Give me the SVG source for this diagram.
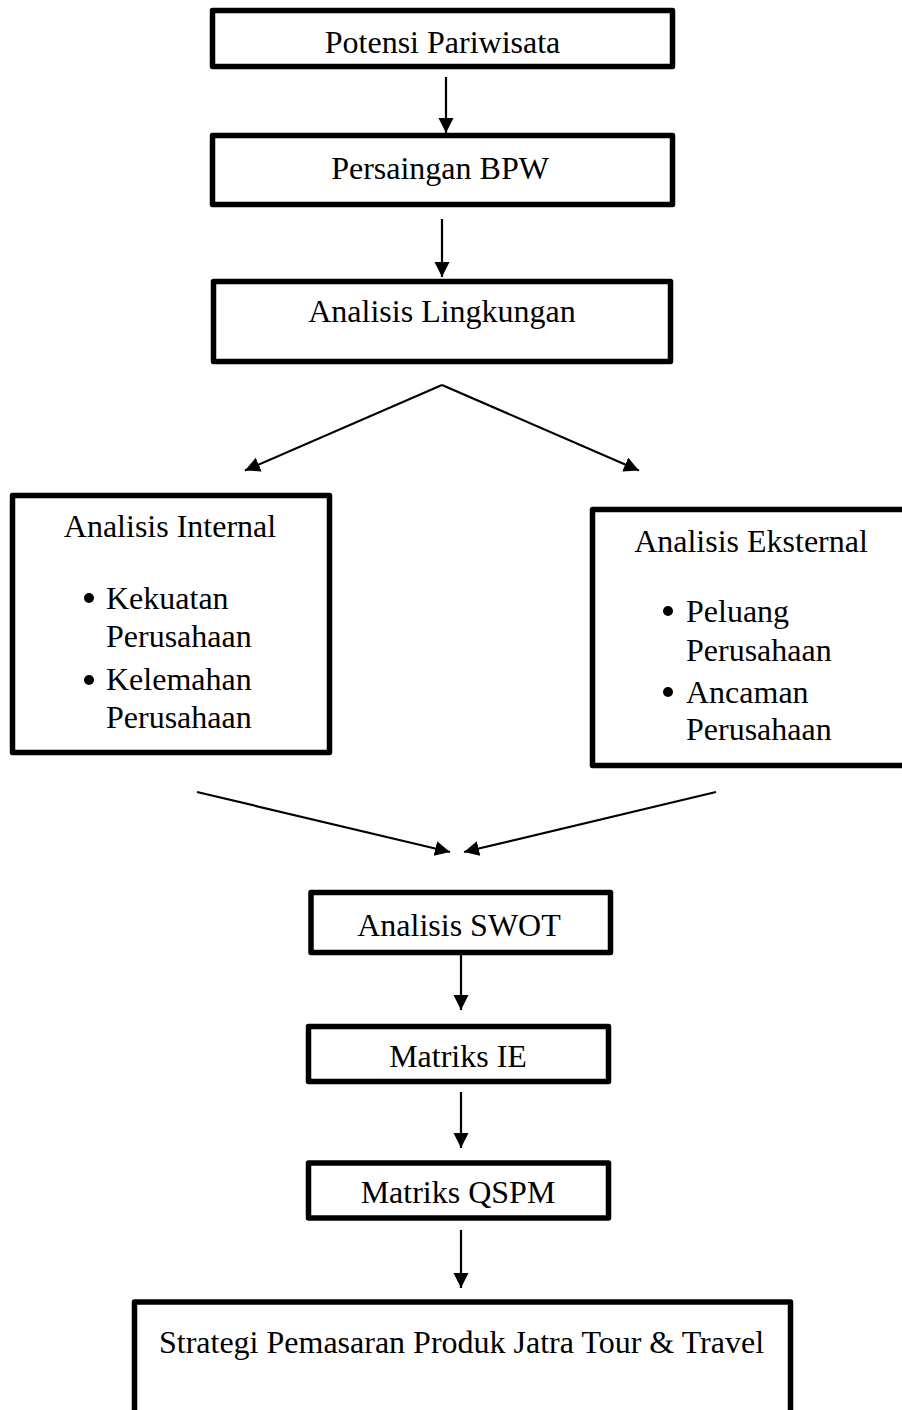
<svg xmlns="http://www.w3.org/2000/svg" width="902" height="1410" viewBox="0 0 902 1410">
  <style>
    .box { fill: #ffffff; stroke: #000000; stroke-width: 5.5; stroke-linejoin: round; }
    .lbl { font-family: "Liberation Serif", "Times New Roman", serif; font-size: 32px; fill: #000000; }
    .mid { text-anchor: middle; }
    .conn { stroke: #000000; stroke-width: 2.2; fill: none; marker-end: url(#arrow); }
    .dot { fill: #000000; }
  </style>
  <defs>
    <marker id="arrow" markerUnits="userSpaceOnUse" markerWidth="16" markerHeight="16" refX="15" refY="7.5" orient="auto">
      <path d="M0,0 L15,7.5 L0,15 Z" fill="#000000"/>
    </marker>
  </defs>
  <rect x="0" y="0" width="902" height="1410" fill="#ffffff"/>

  <g id="connectors">
    <line class="conn" x1="446" y1="77" x2="446" y2="133"/>
    <line class="conn" x1="442" y1="219" x2="442" y2="277"/>
    <line class="conn" x1="442" y1="385" x2="245" y2="470.5"/>
    <line class="conn" x1="442" y1="385" x2="639" y2="470.5"/>
    <line class="conn" x1="197" y1="792" x2="450" y2="852"/>
    <line class="conn" x1="716" y1="792" x2="464" y2="852"/>
    <line class="conn" x1="461" y1="953" x2="461" y2="1010"/>
    <line class="conn" x1="461" y1="1092" x2="461" y2="1148"/>
    <line class="conn" x1="461" y1="1230" x2="461" y2="1288"/>
  </g>

  <g id="node-potensi">
    <rect class="box" x="212.5" y="10.5" width="460" height="56"/>
    <text class="lbl mid" x="442.5" y="53">Potensi Pariwisata</text>
  </g>

  <g id="node-persaingan">
    <rect class="box" x="212.5" y="135.5" width="460" height="69"/>
    <text class="lbl mid" x="440" y="179">Persaingan BPW</text>
  </g>

  <g id="node-lingkungan">
    <rect class="box" x="213.5" y="281.5" width="457" height="80"/>
    <text class="lbl mid" x="442" y="322">Analisis Lingkungan</text>
  </g>

  <g id="node-internal">
    <rect class="box" x="12.5" y="495.5" width="317" height="257"/>
    <text class="lbl mid" x="170" y="537">Analisis Internal</text>
    <circle class="dot" cx="89" cy="598" r="5"/>
    <text class="lbl" x="106" y="609">Kekuatan</text>
    <text class="lbl" x="106" y="647">Perusahaan</text>
    <circle class="dot" cx="89" cy="680" r="5"/>
    <text class="lbl" x="106" y="690">Kelemahan</text>
    <text class="lbl" x="106" y="728">Perusahaan</text>
  </g>

  <g id="node-eksternal">
    <rect class="box" x="592.5" y="509.5" width="320" height="256"/>
    <text class="lbl mid" x="751" y="552">Analisis Eksternal</text>
    <circle class="dot" cx="668" cy="611" r="5"/>
    <text class="lbl" x="686" y="622">Peluang</text>
    <text class="lbl" x="686" y="661">Perusahaan</text>
    <circle class="dot" cx="668" cy="692" r="5"/>
    <text class="lbl" x="686" y="703">Ancaman</text>
    <text class="lbl" x="686" y="740">Perusahaan</text>
  </g>

  <g id="node-swot">
    <rect class="box" x="311" y="892.5" width="299.5" height="60"/>
    <text class="lbl mid" x="459" y="936">Analisis SWOT</text>
  </g>

  <g id="node-ie">
    <rect class="box" x="308.5" y="1026.5" width="300" height="55"/>
    <text class="lbl mid" x="458" y="1067">Matriks IE</text>
  </g>

  <g id="node-qspm">
    <rect class="box" x="308.5" y="1163" width="300" height="55"/>
    <text class="lbl mid" x="458" y="1203">Matriks QSPM</text>
  </g>

  <g id="node-strategi">
    <rect class="box" x="134.5" y="1302" width="656" height="200"/>
    <text class="lbl mid" x="461.5" y="1353">Strategi Pemasaran Produk Jatra Tour &amp; Travel</text>
  </g>
</svg>
